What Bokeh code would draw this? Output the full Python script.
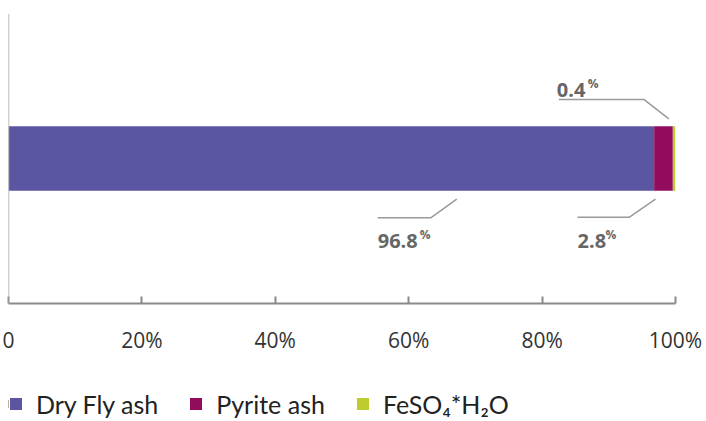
from bokeh.plotting import figure
from bokeh.layouts import column
from bokeh.models import (Range1d, FixedTicker, Span, Label,
                          Legend, LegendItem)
from bokeh.embed import file_html
from bokeh.resources import INLINE

# ---- data ----
categories = ["Dry Fly ash", "Pyrite ash", "FeSO\u2084*H\u2082O"]
shares = [96.8, 2.8, 0.4]
value_labels = ["96.8", "2.8", "0.4"]
tick_values = [0, 20, 40, 60, 80, 100]
tick_labels = ["0", "20%", "40%", "60%", "80%", "100%"]

# ---- styles / layout ----
colors = ["#5a56a1", "#920c5d", "#bfcc2d"]
BAR_H = 0.223
PX_X = 100 / 667.0   # data units per px (x)
PX_Y = 1 / 290.0     # data units per px (y)

p = figure(width=706, height=380, frame_width=667, frame_height=290,
           x_range=Range1d(0, 100), y_range=Range1d(0, 1),
           output_backend="svg", toolbar_location=None, y_axis_location=None,
           min_border_left=8, min_border_right=31, min_border_top=13,
           min_border_bottom=77)
p.outline_line_color = None
p.grid.visible = False
p.background_fill_color = "white"

ax = p.xaxis[0]
ax.ticker = FixedTicker(ticks=tick_values)
ax.major_label_overrides = {v: t for v, t in zip(tick_values, tick_labels)}
ax.major_tick_in = 7
ax.major_tick_out = 0
ax.minor_tick_in = 0
ax.minor_tick_out = 0
ax.axis_line_color = "#8a8a8a"
ax.axis_line_width = 2
ax.major_tick_line_color = "#8a8a8a"
ax.major_tick_line_width = 2
ax.major_label_text_font = "Open Sans"
ax.major_label_text_font_size = "21px"
ax.major_label_text_color = "#333333"
ax.major_label_standoff = 22

p.add_layout(Span(location=0, dimension="height", line_color="#a6a6a6", line_width=1.5))

# stacked bar
lefts, rights = [], []
acc = 0.0
for s in shares:
    lefts.append(acc)
    acc += s
    rights.append(acc)

for i in range(len(shares)):
    p.hbar(y=0.5, left=lefts[i], right=rights[i], height=BAR_H,
           fill_color=colors[i], line_color=None)

# value annotations with leader lines
bar_top = 0.5 + BAR_H / 2
bar_bot = 0.5 - BAR_H / 2
anchor_x = [67.2, 97.0, 99.0]          # where each leader touches
side = [-1, -1, 1]                      # -1 below bar, +1 above bar
gap = [8.3, 8.3, 7.3]
elbow = [(-26, 18.7), (-26, 18.0), (-25, 19.4)]
tail = [-79, -78, -110]
text_dx = [-79, -78, -112]
text_dy = [42, 42, 28.7]
pct_dx = [42, 28, 31]

for i in range(3):
    ax0 = anchor_x[i]
    if side[i] < 0:
        ay = bar_bot - gap[i] * PX_Y
        sgn = -1
    else:
        ay = bar_top + gap[i] * PX_Y
        sgn = 1
    ex = ax0 + elbow[i][0] * PX_X
    ey = ay + sgn * elbow[i][1] * PX_Y
    tx = ax0 + tail[i] * PX_X
    p.line([ax0, ex, tx], [ay, ey, ey], line_color="#9a9a9a", line_width=1.5)
    ty = ay + sgn * text_dy[i] * PX_Y
    tx_text = ax0 + text_dx[i] * PX_X
    p.add_layout(Label(x=tx_text, y=ty, text=value_labels[i], text_baseline="alphabetic",
                       text_font="Open Sans", text_font_style="bold",
                       text_font_size="20px", text_color="#666666"))
    p.add_layout(Label(x=ax0 + (text_dx[i] + pct_dx[i]) * PX_X,
                       y=ty + 7 * PX_Y, text="%", text_baseline="alphabetic",
                       text_font="Open Sans", text_font_style="bold",
                       text_font_size="12px", text_color="#666666"))

# ---- legend strip (separate figure below the chart) ----
# its x range lies beyond the data, so the proxy bars only feed the legend
pl = figure(width=706, height=41, x_range=Range1d(200, 300), y_range=Range1d(0, 1),
            output_backend="svg", toolbar_location=None,
            x_axis_location=None, y_axis_location=None,
            min_border_left=6, min_border_right=0, min_border_top=6, min_border_bottom=0)
pl.outline_line_color = None
pl.grid.visible = False

lrends = []
for i in range(len(categories)):
    r = pl.hbar(y=0.5, left=lefts[i], right=rights[i], height=BAR_H,
                fill_color=colors[i], line_color=None)
    lrends.append(r)

legend = Legend(items=[LegendItem(label=categories[i], renderers=[lrends[i]]) for i in range(3)],
                orientation="horizontal", location="left",
                padding=0, margin=0, spacing=30, border_line_color=None,
                background_fill_alpha=0, glyph_width=15, glyph_height=15,
                label_standoff=13, label_text_font="Lato", label_text_font_size="25px",
                label_text_color="#222222", label_text_baseline="middle")
pl.add_layout(legend)

layout = column(p, pl, spacing=0)
open("out.html", "w").write(file_html(layout, INLINE))
